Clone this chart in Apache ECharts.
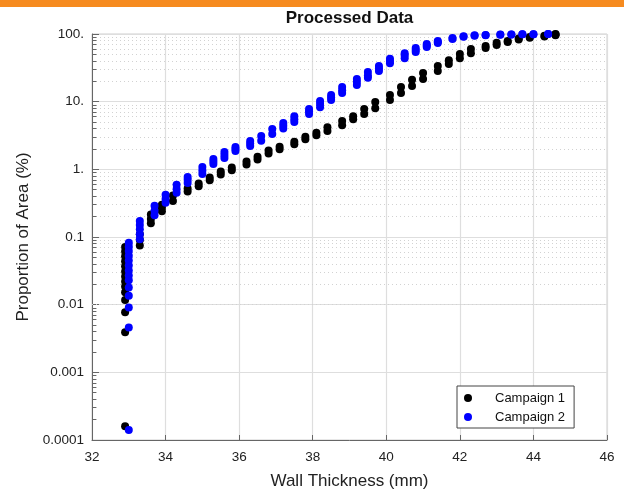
<!DOCTYPE html>
<html>
<head>
<meta charset="utf-8">
<script src="https://cdn.jsdelivr.net/npm/echarts@6/dist/echarts.min.js"></script>
<style>html,body{margin:0;padding:0;background:#fff}#c{width:624px;height:490px}</style>
</head>
<body>
<div id="c"></div>
<script>
// Campaign 1 (black): wall thickness (mm) and cumulative proportion of area (%)
const c1X = [
  32.9,32.9,32.9,32.9,32.9,32.9,32.9,32.9,32.9,32.9,32.9,32.9,32.9,32.9,
  33.3,33.3,33.3,
  33.6,33.6,33.6,
  33.9,33.9,33.9,
  34.2,34.2, 34.6,34.6, 34.9,34.9, 35.2,35.2, 35.5,35.5, 35.8,35.8,
  36.2,36.2, 36.5,36.5, 36.8,36.8, 37.1,37.1, 37.5,37.5, 37.8,37.8,
  38.1,38.1, 38.4,38.4, 38.8,38.8, 39.1,39.1, 39.4,39.4, 39.7,39.7,
  40.1,40.1, 40.4,40.4, 40.7,40.7, 41.0,41.0, 41.4,41.4, 41.7,41.7,
  42.0,42.0, 42.3,42.3, 42.7,42.7, 43.0,43.0, 43.3,43.3, 43.6,43.6,
  43.9,43.9, 44.3,44.3, 44.6,44.6,44.6
];
const c1Y = [
  0.00016,0.0039,0.0077,0.0117,0.0152,0.0185,0.022,0.026,0.031,0.037,0.044,0.052,0.061,0.071,
  0.075,0.09,0.11,
  0.16,0.185,0.215,
  0.24,0.27,0.3,
  0.34,0.41, 0.47,0.52, 0.56,0.62, 0.69,0.76, 0.84,0.93, 0.97,1.06,
  1.18,1.3, 1.4,1.54, 1.72,1.9, 1.98,2.16, 2.35,2.55, 2.78,3.02,
  3.2,3.47, 3.7,4.2, 4.5,5.2, 5.5,6.1, 6.6,7.8, 8.0,9.9,
  10.6,12.5, 13.4,16.5, 17,21, 21.6,26.5, 28.4,33.6, 36,41,
  44,50.6, 52,60, 62,66.5, 69,74, 76,79, 83,85.5,
  88,90, 92,94.5, 96,98,100
];
// Campaign 2 (blue)
const c2X = [
  33.0,33.0,33.0,33.0,33.0,33.0,33.0,33.0,33.0,33.0,33.0,33.0,33.0,33.0,
  33.3,33.3,33.3,33.3,33.3,
  33.7,33.7,33.7, 34.0,34.0,34.0, 34.3,34.3,34.3, 34.6,34.6,34.6,
  35.0,35.0,35.0, 35.3,35.3,35.3, 35.6,35.6,35.6, 35.9,35.9,35.9,
  36.3,36.3,36.3, 36.6,36.6, 36.9,36.9, 37.2,37.2,37.2, 37.5,37.5,37.5,
  37.9,37.9,37.9, 38.2,38.2,38.2, 38.5,38.5,38.5, 38.8,38.8,38.8,
  39.2,39.2,39.2, 39.5,39.5,39.5, 39.8,39.8,39.8, 40.1,40.1,40.1,
  40.5,40.5,40.5, 40.8,40.8,40.8, 41.1,41.1,41.1, 41.4,41.4,41.4,
  41.8,41.8, 42.1,42.1, 42.4,42.4, 42.7,42.7, 43.1,43.1, 43.4,43.4,
  43.7,43.7, 44.0,44.0, 44.4,44.4
];
const c2Y = [
  0.00014,0.0046,0.0091,0.0136,0.018,0.023,0.027,0.032,0.038,0.045,0.053,0.062,0.072,0.082,
  0.093,0.11,0.13,0.15,0.172,
  0.21,0.245,0.29, 0.32,0.365,0.42, 0.45,0.51,0.59, 0.63,0.7,0.77,
  0.85,0.96,1.08, 1.2,1.31,1.42, 1.47,1.63,1.8, 1.87,2.0,2.14,
  2.21,2.4,2.62, 2.65,3.1, 3.33,3.94, 4.0,4.4,4.83, 5.0,5.5,6.1,
  6.6,7.2,7.8, 8.3,9.2,10.2, 10.6,11.5,12.5, 13.4,14.8,16.5,
  17.6,19.5,21.6, 22.5,24.3,27.4, 28.4,31,33.6, 37,40,43,
  44,48,52, 54,58,62, 64,67.5,71, 73.6,76,78.8,
  84,87, 91,93, 94.5,95.5, 96,97, 97.5,98, 98.3,98.6,
  98.8,99, 99.2,99.4, 99.6,99.9
];
const seriesNames = ['Campaign 1', 'Campaign 2'];
const xTicks = [32, 34, 36, 38, 40, 42, 44, 46];
const yTickLabels = ['0.0001', '0.001', '0.01', '0.1', '1.', '10.', '100.'];
const yDecades = [0.0001, 0.001, 0.01, 0.1, 1, 10, 100];
const minorMultipliers = [2, 3, 4, 5, 6, 7, 8, 9];

const FONT = '"Liberation Sans", Arial, sans-serif';
const pts = (xs, ys) => xs.map((x, i) => [x, ys[i]]);

const minorVals = [];
for (let k = 0; k < yDecades.length - 1; k++) {
  minorMultipliers.forEach(m => minorVals.push(+(m * yDecades[k]).toPrecision(3)));
}

const chart = echarts.init(document.getElementById('c'), null, { renderer: 'canvas' });
chart.setOption({
  animation: false,
  backgroundColor: '#fff',
  graphic: [{ type: 'rect', left: 0, top: 0, shape: { width: 624, height: 7 }, style: { fill: '#F68B1F' }, silent: true }],
  title: {
    text: 'Processed Data', left: 349.5, top: 10, textAlign: 'center', padding: 0,
    textStyle: { fontFamily: FONT, fontSize: 17, fontWeight: 'bold', color: '#111' }
  },
  legend: {
    data: seriesNames, orient: 'vertical', left: 457, top: 386,
    padding: [4, 9, 3, 7], itemWidth: 44, itemHeight: 8, itemGap: 3,
    backgroundColor: '#fff', borderColor: '#444', borderWidth: 1, borderRadius: 0,
    icon: 'circle',
    textStyle: { fontFamily: FONT, fontSize: 13, lineHeight: 16, color: '#111' }
  },
  grid: { left: 92, right: 17, top: 34, bottom: 50, containLabel: false, outerBoundsMode: 'none',
          show: true, borderColor: '#cfcfcf', borderWidth: 1, backgroundColor: 'transparent' },
  xAxis: {
    type: 'value', min: xTicks[0], max: xTicks[xTicks.length - 1], interval: 2,
    name: 'Wall Thickness (mm)', nameLocation: 'middle', nameGap: 33,
    nameTextStyle: { fontFamily: FONT, fontSize: 17, color: '#222' },
    axisLine: { show: true, lineStyle: { color: '#666', width: 1 } },
    axisTick: { show: true, inside: true, length: 5, lineStyle: { color: '#666' } },
    axisLabel: { fontFamily: FONT, fontSize: 13.5, color: '#222', margin: 10 },
    splitLine: { show: true, lineStyle: { color: '#dedede', width: 1.2 } }
  },
  yAxis: {
    type: 'log', logBase: 10, min: yDecades[0], max: yDecades[yDecades.length - 1],
    name: 'Proportion of Area (%)', nameLocation: 'middle', nameGap: 53,
    nameTextStyle: { fontFamily: FONT, fontSize: 17, color: '#222' },
    axisLine: { show: true, lineStyle: { color: '#666', width: 1 } },
    axisTick: { show: true, inside: true, length: 7, lineStyle: { color: '#666' } },
    axisLabel: {
      fontFamily: FONT, fontSize: 13.5, color: '#222', margin: 8,
      formatter: v => yTickLabels[Math.round(Math.log10(v)) + 4]
    },
    splitLine: { show: true, lineStyle: { color: '#dedede', width: 1.2 } }
  },
  series: [
    {
      name: 'grid-minor', type: 'scatter', data: [], silent: true, z: 1,
      markLine: {
        z: 1, silent: true, symbol: 'none', animation: false, label: { show: false },
        lineStyle: { color: '#d2d2d2', width: 1, type: [1, 3] },
        data: minorVals.map(v => ({ yAxis: v }))
      }
    },
    {
      name: 'tick-minor', type: 'scatter', data: [], silent: true, z: 2,
      markLine: {
        z: 2, silent: true, symbol: 'none', animation: false, label: { show: false },
        lineStyle: { color: '#666', width: 1, type: 'solid' },
        data: minorVals.map(v => [{ coord: [xTicks[0], v] }, { coord: [xTicks[0] + 0.12, v] }])
      }
    },
    {
      name: seriesNames[0], type: 'scatter', data: pts(c1X, c1Y), symbol: 'circle', symbolSize: 8,
      itemStyle: { color: '#000', opacity: 1, borderWidth: 0 }, z: 6
    },
    {
      name: seriesNames[1], type: 'scatter', data: pts(c2X, c2Y), symbol: 'circle', symbolSize: 8,
      itemStyle: { color: '#0000ff', opacity: 1, borderWidth: 0 }, z: 7
    }
  ]
});
</script>
</body>
</html>
